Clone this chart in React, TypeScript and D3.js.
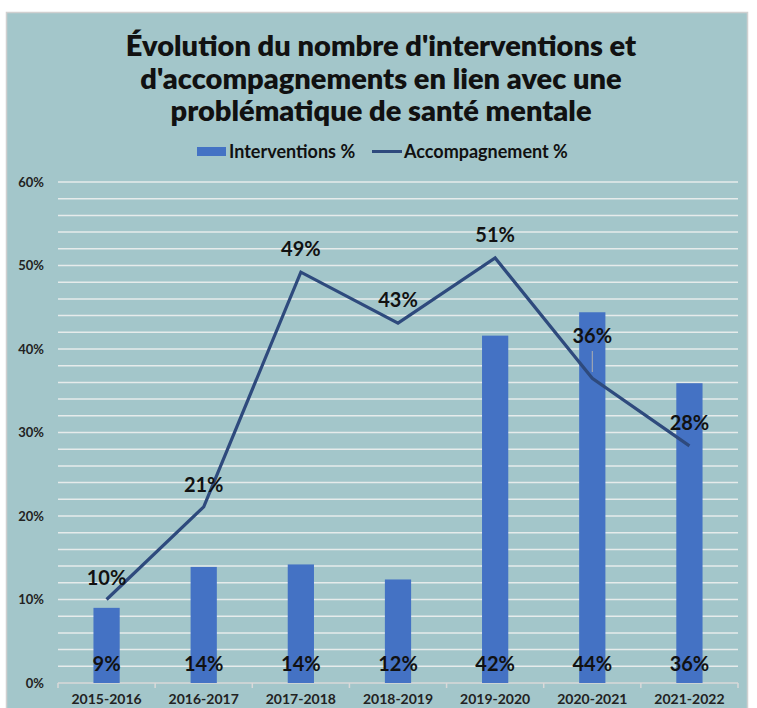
import React, { useEffect, useRef } from "react";
import * as d3 from "d3";

const categories = ["2015-2016", "2016-2017", "2017-2018", "2018-2019", "2019-2020", "2020-2021", "2021-2022"];
const interventions = [9.0, 13.9, 14.2, 12.4, 41.6, 44.4, 35.9];
const interventionLabels = ["9%", "14%", "14%", "12%", "42%", "44%", "36%"];
const accompagnement = [10.0, 21.1, 49.2, 43.1, 50.9, 36.5, 28.4];
const accompagnementLabels = ["10%", "21%", "49%", "43%", "51%", "36%", "28%"];
const yTicks = [0, 10, 20, 30, 40, 50, 60];
const titleLines = [
  "Évolution du nombre d'interventions et",
  "d'accompagnements en lien avec une",
  "problématique de santé mentale",
];
const legendLabels = ["Interventions %", "Accompagnement %"];

const W = 757;
const H = 708;
const FONT = "Lato, 'DejaVu Sans', sans-serif";

export default function App() {
  const ref = useRef<SVGSVGElement | null>(null);
  useEffect(() => {
    const svg = d3.select(ref.current);
    svg.selectAll("*").remove();

    const left = 58, right = 738, top = 182, bottom = 683;
    const x = d3.scaleBand<string>().domain(categories).range([left, right]).paddingInner(0).paddingOuter(0);
    const y = d3.scaleLinear().domain([0, 60]).range([bottom, top]);

    svg.append("rect").attr("x", 0).attr("y", 0).attr("width", W).attr("height", H).attr("fill", "#ffffff");
    svg.append("rect").attr("x", 6.5).attr("y", 12.5).attr("width", 741).attr("height", 700)
      .attr("fill", "#A3C6CA").attr("stroke", "#D0D0D0").attr("stroke-width", 1.5);

    // title
    const title = svg.append("g");
    titleLines.forEach((t, i) => {
      title.append("text").attr("x", 381).attr("y", 56 + i * 32.5).attr("text-anchor", "middle")
        .attr("font-family", FONT).attr("font-weight", 800).attr("font-size", 29).attr("fill", "#111")
        .text(t);
    });

    // legend
    const lg = svg.append("g").attr("font-family", FONT).attr("font-weight", 700).attr("font-size", 18).attr("fill", "#111");
    lg.append("rect").attr("x", 197).attr("y", 147).attr("width", 29).attr("height", 9).attr("fill", "#4472C4");
    lg.append("text").attr("x", 229).attr("y", 158).text(legendLabels[0]);
    lg.append("line").attr("x1", 372).attr("x2", 402).attr("y1", 151.5).attr("y2", 151.5).attr("stroke", "#2E4A7D").attr("stroke-width", 3);
    lg.append("text").attr("x", 404).attr("y", 158).text(legendLabels[1]);

    // gridlines every 2%
    const grid = d3.range(2, 61, 2);
    svg.append("g").selectAll("line").data(grid).join("line")
      .attr("x1", left).attr("x2", right)
      .attr("y1", (d) => y(d)).attr("y2", (d) => y(d))
      .attr("stroke", "#E6EBEB").attr("stroke-width", 1.5);

    // y labels
    svg.append("g").selectAll("text").data(yTicks).join("text")
      .attr("x", 44).attr("y", (d) => y(d) + 4.5).attr("text-anchor", "end")
      .attr("font-family", FONT).attr("font-weight", 700).attr("font-size", 13).attr("fill", "#222")
      .text((d) => `${d}%`);

    // x axis
    const xAxis = svg.append("g");
    xAxis.append("line").attr("x1", left).attr("x2", right).attr("y1", bottom).attr("y2", bottom)
      .attr("stroke", "#D9D9D9").attr("stroke-width", 1.5);
    const bounds = categories.map((c) => x(c)!).concat([right]);
    xAxis.selectAll("line.tick").data(bounds).join("line").attr("class", "tick")
      .attr("x1", (d) => d).attr("x2", (d) => d).attr("y1", bottom).attr("y2", bottom + 5)
      .attr("stroke", "#D9D9D9").attr("stroke-width", 1.5);
    xAxis.selectAll("text").data(categories).join("text")
      .attr("x", (d) => x(d)! + x.bandwidth() / 2).attr("y", 704).attr("text-anchor", "middle")
      .attr("font-family", FONT).attr("font-weight", 700).attr("font-size", 14).attr("fill", "#222")
      .text((d) => d);

    // bars
    const bw = x.bandwidth() * 0.27;
    svg.append("g").selectAll("rect").data(interventions).join("rect")
      .attr("x", (_d, i) => x(categories[i])! + x.bandwidth() / 2 - bw / 2)
      .attr("y", (d) => y(d)).attr("width", bw).attr("height", (d) => bottom - y(d))
      .attr("fill", "#4472C4");

    // bar labels
    svg.append("g").selectAll("text").data(interventionLabels).join("text")
      .attr("x", (_d, i) => x(categories[i])! + x.bandwidth() / 2).attr("y", 671).attr("text-anchor", "middle")
      .attr("font-family", FONT).attr("font-weight", 700).attr("font-size", 20).attr("fill", "#111")
      .text((d) => d);

    // line
    const line = d3.line<number>()
      .x((_d, i) => x(categories[i])! + x.bandwidth() / 2)
      .y((d) => y(d));
    svg.append("path").datum(accompagnement).attr("d", line).attr("fill", "none")
      .attr("stroke", "#2E4A7D").attr("stroke-width", 3.2).attr("stroke-linejoin", "miter");

    // leader for 36%
    const cx5 = x(categories[5])! + x.bandwidth() / 2;
    svg.append("line").attr("x1", cx5).attr("x2", cx5).attr("y1", 351).attr("y2", 372)
      .attr("stroke", "#B0B0B0").attr("stroke-width", 1);

    const labelOffsets = [15, 15, 16, 16, 16, 35, 16];
    svg.append("g").selectAll("text").data(accompagnementLabels).join("text")
      .attr("x", (_d, i) => x(categories[i])! + x.bandwidth() / 2)
      .attr("y", (_d, i) => y(accompagnement[i]) - labelOffsets[i]).attr("text-anchor", "middle")
      .attr("font-family", FONT).attr("font-weight", 700).attr("font-size", 20).attr("fill", "#111")
      .text((d) => d);
  }, []);
  return (
    <svg ref={ref} width={W} height={H} style={{ position: "absolute", left: 0, top: 0 }} />
  );
}
